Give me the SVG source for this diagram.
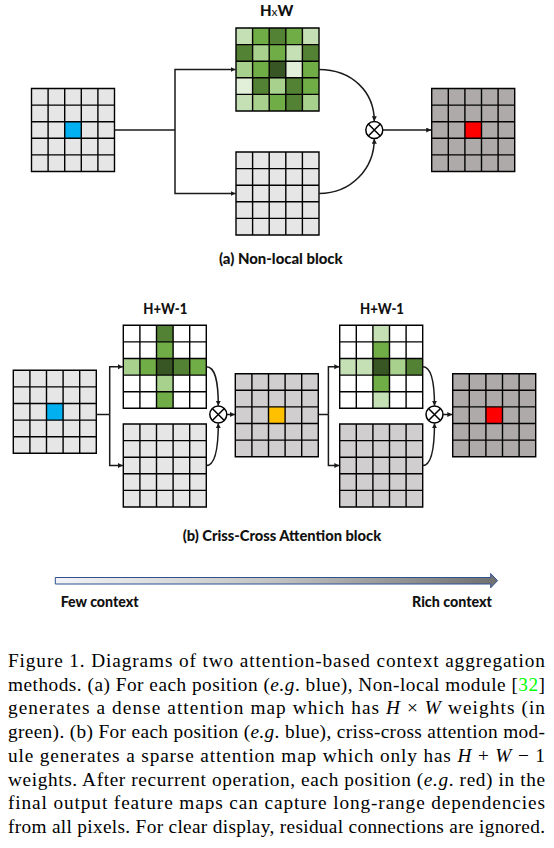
<svg xmlns="http://www.w3.org/2000/svg" xmlns:xlink="http://www.w3.org/1999/xlink" width="554" height="848" viewBox="0 0 554 848">
<style>
  .g{fill:none;stroke:#000;stroke-width:1.4}
  .c{fill:none;stroke:#1a1a1a;stroke-width:1.5}
  .arr{marker-end:url(#ah)}
  .ot{fill:#fff;stroke:#000;stroke-width:1.5}
  .lbl{font-family:Lato,"Open Sans",sans-serif;font-weight:900;font-size:15px;fill:#111}
  .cap{font-family:"Liberation Serif","Times New Roman",serif;font-size:19.3px;fill:#000}
  .l1{fill:#e7e6e6}.l2{fill:#d0cece}.l3{fill:#aeaaaa}.wh{fill:#fff}
  .gA{fill:#e2f0d9}.gB{fill:#c5e0b4}.gC{fill:#a9d18e}.gD{fill:#70ad47}.gE{fill:#548235}.gF{fill:#375623}
</style>
<defs>
  <path id="lines" class="g" d="M0,0H83V83H0Z M16.6,0V83 M33.2,0V83 M49.8,0V83 M66.4,0V83 M0,16.6H83 M0,33.2H83 M0,49.8H83 M0,66.4H83"/>
  <marker id="ah" markerUnits="userSpaceOnUse" markerWidth="6" markerHeight="6" refX="5" refY="2.5" orient="auto">
    <path d="M0,0 L5,2.5 L0,5 z" fill="#1a1a1a"/>
  </marker>
  <g id="otimes">
    <circle cx="0" cy="0" r="8.5" class="ot"/>
    <path d="M-6,-6L6,6M6,-6L-6,6" stroke="#000" stroke-width="1.5"/>
  </g>
  <linearGradient id="ctx" x1="0" y1="0" x2="1" y2="0">
    <stop offset="0" stop-color="#f2f3f6"/>
    <stop offset="0.5" stop-color="#c2c2c2"/>
    <stop offset="1" stop-color="#707070"/>
  </linearGradient>
</defs>

<!-- (a) Non-local block -->
<g id="a-input">
  <rect x="31.5" y="88.5" width="83" height="83" class="l1"/>
  <rect x="64.7" y="121.7" width="16.6" height="16.6" fill="#00b0f0"/>
  <use xlink:href="#lines" x="31.5" y="88.5"/>
</g>
<g id="a-attention">
  <rect x="236" y="28" width="16.6" height="16.6" class="gB"/>
  <rect x="252.6" y="28" width="16.6" height="16.6" class="gD"/>
  <rect x="269.2" y="28" width="16.6" height="16.6" class="gE"/>
  <rect x="285.8" y="28" width="16.6" height="16.6" class="gD"/>
  <rect x="302.4" y="28" width="16.6" height="16.6" class="gB"/>
  <rect x="236" y="44.6" width="16.6" height="16.6" class="gE"/>
  <rect x="252.6" y="44.6" width="16.6" height="16.6" class="gC"/>
  <rect x="269.2" y="44.6" width="16.6" height="16.6" class="gD"/>
  <rect x="285.8" y="44.6" width="16.6" height="16.6" class="gB"/>
  <rect x="302.4" y="44.6" width="16.6" height="16.6" class="gE"/>
  <rect x="236" y="61.2" width="16.6" height="16.6" class="gC"/>
  <rect x="252.6" y="61.2" width="16.6" height="16.6" class="gD"/>
  <rect x="269.2" y="61.2" width="16.6" height="16.6" class="gF"/>
  <rect x="285.8" y="61.2" width="16.6" height="16.6" class="gA"/>
  <rect x="302.4" y="61.2" width="16.6" height="16.6" class="gD"/>
  <rect x="236" y="77.8" width="16.6" height="16.6" class="gA"/>
  <rect x="252.6" y="77.8" width="16.6" height="16.6" class="gE"/>
  <rect x="269.2" y="77.8" width="16.6" height="16.6" class="gC"/>
  <rect x="285.8" y="77.8" width="16.6" height="16.6" class="gE"/>
  <rect x="302.4" y="77.8" width="16.6" height="16.6" class="gD"/>
  <rect x="236" y="94.4" width="16.6" height="16.6" class="gB"/>
  <rect x="252.6" y="94.4" width="16.6" height="16.6" class="gC"/>
  <rect x="269.2" y="94.4" width="16.6" height="16.6" class="gD"/>
  <rect x="285.8" y="94.4" width="16.6" height="16.6" class="gE"/>
  <rect x="302.4" y="94.4" width="16.6" height="16.6" class="gC"/>
  <use xlink:href="#lines" x="236" y="28"/>
  <text class="lbl" x="276.7" y="15.7" text-anchor="middle">H<tspan font-weight="normal" font-size="12">x</tspan>W</text>
</g>
<g id="a-value">
  <rect x="236" y="152" width="83" height="83" class="l1"/>
  <use xlink:href="#lines" x="236" y="152"/>
</g>
<g id="a-op"><use xlink:href="#otimes" x="374.3" y="130"/></g>
<g id="a-output">
  <rect x="431.7" y="88.5" width="83" height="83" class="l3"/>
  <rect x="464.9" y="121.7" width="16.6" height="16.6" fill="#ff0000"/>
  <use xlink:href="#lines" x="431.7" y="88.5"/>
</g>
<text id="a-title" class="lbl" x="219" y="263.5" textLength="123.7" lengthAdjust="spacingAndGlyphs">(a) Non-local block</text>

<!-- (b) Criss-Cross Attention block -->
<g id="b-input">
  <rect x="13.3" y="370.3" width="83" height="83" class="l1"/>
  <rect x="46.5" y="403.5" width="16.6" height="16.6" fill="#00b0f0"/>
  <use xlink:href="#lines" x="13.3" y="370.3"/>
</g>
<g id="b-attention1">
  <rect x="123.3" y="325.3" width="83" height="83" class="wh"/>
  <rect x="156.5" y="325.3" width="16.6" height="16.6" class="gE"/>
  <rect x="156.5" y="341.9" width="16.6" height="16.6" class="gD"/>
  <rect x="156.5" y="358.5" width="16.6" height="16.6" class="gF"/>
  <rect x="156.5" y="375.1" width="16.6" height="16.6" class="gC"/>
  <rect x="156.5" y="391.7" width="16.6" height="16.6" class="gD"/>
  <rect x="123.3" y="358.5" width="16.6" height="16.6" class="gC"/>
  <rect x="139.9" y="358.5" width="16.6" height="16.6" class="gD"/>
  <rect x="173.1" y="358.5" width="16.6" height="16.6" class="gE"/>
  <rect x="189.7" y="358.5" width="16.6" height="16.6" class="gD"/>
  <use xlink:href="#lines" x="123.3" y="325.3"/>
  <text class="lbl" x="165.3" y="313.5" text-anchor="middle" textLength="44" lengthAdjust="spacingAndGlyphs">H+W-1</text>
</g>
<g id="b-value1">
  <rect x="123.3" y="424" width="83" height="83" class="l1"/>
  <use xlink:href="#lines" x="123.3" y="424"/>
</g>
<g id="b-op1"><use xlink:href="#otimes" x="218.3" y="414.5"/></g>
<g id="b-middle">
  <rect x="235.3" y="373.7" width="83" height="83" class="l2"/>
  <rect x="268.5" y="406.9" width="16.6" height="16.6" fill="#ffc000"/>
  <use xlink:href="#lines" x="235.3" y="373.7"/>
</g>
<g id="b-attention2">
  <rect x="339.7" y="325.3" width="83" height="83" class="wh"/>
  <rect x="372.9" y="325.3" width="16.6" height="16.6" class="gB"/>
  <rect x="372.9" y="341.9" width="16.6" height="16.6" class="gD"/>
  <rect x="372.9" y="358.5" width="16.6" height="16.6" class="gF"/>
  <rect x="372.9" y="375.1" width="16.6" height="16.6" class="gD"/>
  <rect x="372.9" y="391.7" width="16.6" height="16.6" class="gB"/>
  <rect x="339.7" y="358.5" width="16.6" height="16.6" class="gB"/>
  <rect x="356.3" y="358.5" width="16.6" height="16.6" class="gB"/>
  <rect x="389.5" y="358.5" width="16.6" height="16.6" class="gC"/>
  <rect x="406.1" y="358.5" width="16.6" height="16.6" class="gE"/>
  <use xlink:href="#lines" x="339.7" y="325.3"/>
  <text class="lbl" x="382" y="313.5" text-anchor="middle" textLength="44" lengthAdjust="spacingAndGlyphs">H+W-1</text>
</g>
<g id="b-value2">
  <rect x="339.7" y="424" width="83" height="83" class="l2"/>
  <use xlink:href="#lines" x="339.7" y="424"/>
</g>
<g id="b-op2"><use xlink:href="#otimes" x="434.5" y="414.5"/></g>
<g id="b-output">
  <rect x="452.7" y="373.7" width="83" height="83" class="l3"/>
  <rect x="485.9" y="406.9" width="16.6" height="16.6" fill="#ff0000"/>
  <use xlink:href="#lines" x="452.7" y="373.7"/>
</g>
<text id="b-title" class="lbl" x="182.7" y="540.5" textLength="198.5" lengthAdjust="spacingAndGlyphs">(b) Criss-Cross Attention block</text>

<!-- connectors -->
<g id="connectors">
  <path class="c" d="M114.5,130H175" stroke-width="2"/>
  <path class="c arr" d="M175,130V69.5H235.5"/>
  <path class="c arr" d="M175,130V193.5H235.5"/>
  <path class="c arr" d="M319,69.5C352,69.5 374.3,92 374.3,121.3"/>
  <path class="c arr" d="M319,193.5C352,193.5 374.3,168 374.3,138.7"/>
  <path class="c arr" d="M382.8,130H431.2"/>

  <path class="c" d="M96.3,414.5H109.7" stroke-width="2"/>
  <path class="c arr" d="M109.7,414.5V366.8H122.9"/>
  <path class="c arr" d="M109.7,414.5V465.5H122.9"/>
  <path class="c arr" d="M206.3,366.8C215,366.8 218.3,380 218.3,405.8"/>
  <path class="c arr" d="M206.3,465.5C215,465.5 218.3,450 218.3,423.2"/>
  <path class="c arr" d="M226.8,414.5H234.9"/>

  <path class="c" d="M318.3,414.5H328.4" stroke-width="2"/>
  <path class="c arr" d="M328.4,414.5V366.8H339.3"/>
  <path class="c arr" d="M328.4,414.5V465.5H339.3"/>
  <path class="c arr" d="M422.7,366.8C431,366.8 434.5,380 434.5,405.8"/>
  <path class="c arr" d="M422.7,465.5C431,465.5 434.5,450 434.5,423.2"/>
  <path class="c arr" d="M443,414.5H452.3"/>
</g>

<!-- context arrow -->
<g id="context-bar">
  <path d="M55.3,577.5H490.7V573.5L497.5,580.7L490.7,587.8V584H55.3Z" fill="url(#ctx)" stroke="#2f528f" stroke-width="1"/>
  <text class="lbl" x="60.7" y="606.5" textLength="78" lengthAdjust="spacingAndGlyphs">Few context</text>
  <text class="lbl" x="412" y="606.5" textLength="80" lengthAdjust="spacingAndGlyphs">Rich context</text>
</g>

<!-- caption -->
<g id="caption">
  <text class="cap" x="8" y="667" textLength="537" lengthAdjust="spacing">Figure 1. Diagrams of two attention-based context aggregation</text>
  <text class="cap" x="8" y="690.7" textLength="537" lengthAdjust="spacing">methods. (a) For each position (<tspan font-style="italic">e.g</tspan>. blue), Non-local module [<tspan fill="#00ff00">32</tspan>]</text>
  <text class="cap" x="8" y="714.4" textLength="537" lengthAdjust="spacing">generates a dense attention map which has <tspan font-style="italic">H</tspan> × <tspan font-style="italic">W</tspan> weights (in</text>
  <text class="cap" x="8" y="738.1" textLength="537" lengthAdjust="spacing">green). (b) For each position (<tspan font-style="italic">e.g</tspan>. blue), criss-cross attention mod-</text>
  <text class="cap" x="8" y="761.8" textLength="537" lengthAdjust="spacing">ule generates a sparse attention map which only has <tspan font-style="italic">H</tspan> + <tspan font-style="italic">W</tspan> − 1</text>
  <text class="cap" x="8" y="785.5" textLength="537" lengthAdjust="spacing">weights.  After recurrent operation, each position (<tspan font-style="italic">e.g</tspan>. red) in the</text>
  <text class="cap" x="8" y="809.2" textLength="537" lengthAdjust="spacing">final output feature maps can capture long-range dependencies</text>
  <text class="cap" x="8" y="832.9" textLength="537" lengthAdjust="spacing">from all pixels. For clear display, residual connections are ignored.</text>
</g>
</svg>
